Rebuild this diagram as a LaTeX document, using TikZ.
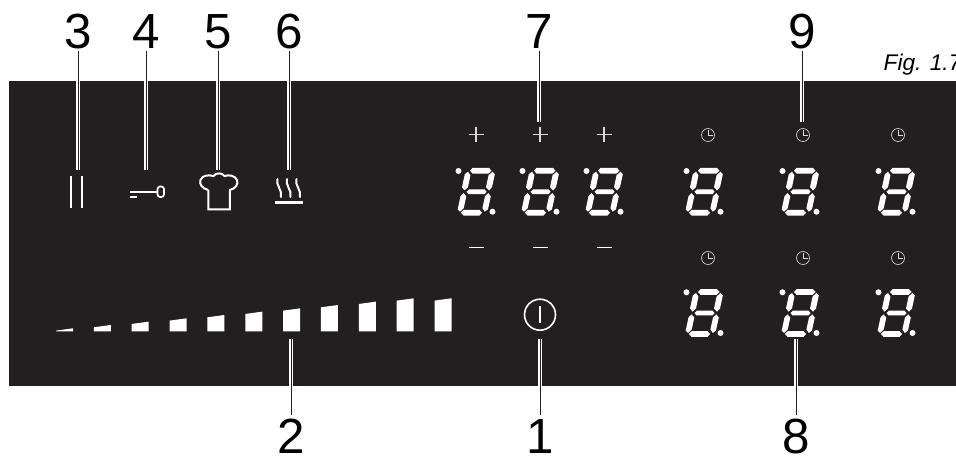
\documentclass[tikz,border=0pt]{standalone}
\usepackage{fontspec}
\setsansfont{Liberation Sans}
\definecolor{panel}{HTML}{231F20}
\tikzset{
  digit/.pic={
    \fill[white] (-6,-21)--(-3.5,-23.8)--(13,-23.8)--(15.5,-21)--(12.5,-18.2)--(-3.5,-18.2)--cycle;
    \fill[white] (-9.5,0)--(-7,-2.4)--(8.5,-2.4)--(10.5,0)--(8.5,2.4)--(-7.5,2.4)--cycle;
    \fill[white] (-15,21)--(-12.5,18.2)--(3.5,18.2)--(6,21)--(3.5,23.8)--(-12.5,23.8)--cycle;
    \fill[white] (-8,-20)--(-5.6,-16.5)--(-8,-4.5)--(-11.5,-1.4)--(-14,-4.5)--(-11.2,-17.5)--cycle;
    \fill[white] (16.5,-20)--(18.8,-17.5)--(16,-4.5)--(13,-1.4)--(10,-4.5)--(12.6,-16.5)--cycle;
    \fill[white] (-12.5,1.4)--(-9.7,4.5)--(-12.3,16.5)--(-16,20)--(-18.3,17.5)--(-15.5,4.5)--cycle;
    \fill[white] (12.3,1.4)--(14.8,4.5)--(12,17.5)--(8.8,20)--(6.4,16.5)--(9,4.5)--cycle;
    \fill[white] (-17.5,-20.7) circle (3) (16.5,20) circle (3);
  },
  clock/.pic={
    \draw[thinwhite] (0,0) circle (6.5);
    \draw[thinwhite] (0,-5)--(0,0)--(5,0);
  }
}
\begin{document}
\begin{tikzpicture}[x=0.75pt,y=-0.75pt,every node/.style={font=\sffamily},
  thinwhite/.style={white!85!black,line width=.5pt},
  icon/.style={white,line width=1.5pt},
  num/.style={font=\sffamily\fontsize{37}{37}\selectfont,inner sep=1pt,text=black},
  leader/.style={draw=white,double=panel,double distance=.7pt,line width=.8pt}]
\useasboundingbox (0,0) rectangle (956,455);
\clip (0,0) rectangle (956,455);
\fill[panel] (9,81) rectangle (956,386);
\node[font=\sffamily\itshape\fontsize{17}{17}\selectfont,anchor=base west] (fig) at (879,70.7) {Fig. 1.7};
% labels
\node[num] (n3) at (78,32) {3};
\node[num] (n4) at (146,32) {4};
\node[num] (n5) at (218,32) {5};
\node[num] (n6) at (289,32) {6};
\node[num] (n7) at (539,32) {7};
\node[num] (n9) at (802,32) {9};
\node[num] (n2) at (291,436.5) {2};
\node[num] (n1) at (540,436.5) {1};
\node[num] (n8) at (796,436.5) {8};
\foreach \n/\x in {3/78,4/146,5/218,6/289,7/539,9/802}{
  \ifnum\n>6 \coordinate (e\n) at (\x,121.7); \else \coordinate (e\n) at (\x,170); \fi
  \draw[leader] (n\n.south)--(e\n);
}
\foreach \n/\x in {2/291,1/540,8/796}{
  \coordinate (e\n) at (\x,338.5);
  \draw[leader,shorten <=2pt] (n\n.north)--(e\n);
}
% icons
\draw[icon] (71,176)--(71,208) (82,176)--(82,208);
\draw[icon,line width=1.7pt] (130,191.7)--(157,191.7) (130,197.3)--(137.3,197.3);
\draw[icon,line width=1.3pt,rounded corners=2] (157.5,186.5)rectangle(164,197);
\draw[icon] (208.3,190)--(208.3,209.3)--(229.8,209.3)--(229.8,190)
  .. controls (236,188.5) and (238.5,184) .. (237,180)
  .. controls (235,175.5) and (229,174.5) .. (224.5,176)
  .. controls (222,172.5) and (216,172.5) .. (213.5,176)
  .. controls (208,174.5) and (202,175.5) .. (200.5,180)
  .. controls (199,184) and (202,188.5) .. (208.3,190);
\foreach \x in {277.5,287,296.5}{
  \draw[white,line width=1.5pt,line cap=round] (\x,179) .. controls (\x-2,185) and (\x+5,190) .. (\x+3.5,197);
}
\fill[white] (275,201) rectangle (303.3,204);
% level bar
\foreach \i in {0,...,10}{
  \pgfmathsetmacro{\tr}{max(298.3,328.3-3.33*\i)}
  \pgfmathsetmacro{\tl}{min(331.3,\tr+2.3)}
  \fill[white] ({56+37.85*\i},331.3)--({73+37.85*\i},331.3)--({73+37.85*\i},\tr)--({56+37.85*\i},\tl)--cycle;
}
% power key
\draw[white,line width=1.2pt] (540,314.7) circle (15.5);
\draw[white,line width=1.2pt] (540,306)--(540,322.7);
% plus minus
\foreach \x in {476,540,604}{
  \draw[thinwhite,line width=.9pt] (\x-7.5,134.7)--(\x+7.5,134.7) (\x,127.2)--(\x,142.2);
  \draw[white,line width=1.1pt] (\x-7.5,247.7)--(\x+7.5,247.7);
  \pic at (\x,191.7) {digit};
}
% timers
\foreach \x/\c in {704/708,800/803,896/898}{
  \pic at (\x,191.7) {digit};
  \pic at (\x,313) {digit};
  \pic at (\c,135) {clock};
  \pic at (\c,258) {clock};
}
\end{tikzpicture}
\end{document}
